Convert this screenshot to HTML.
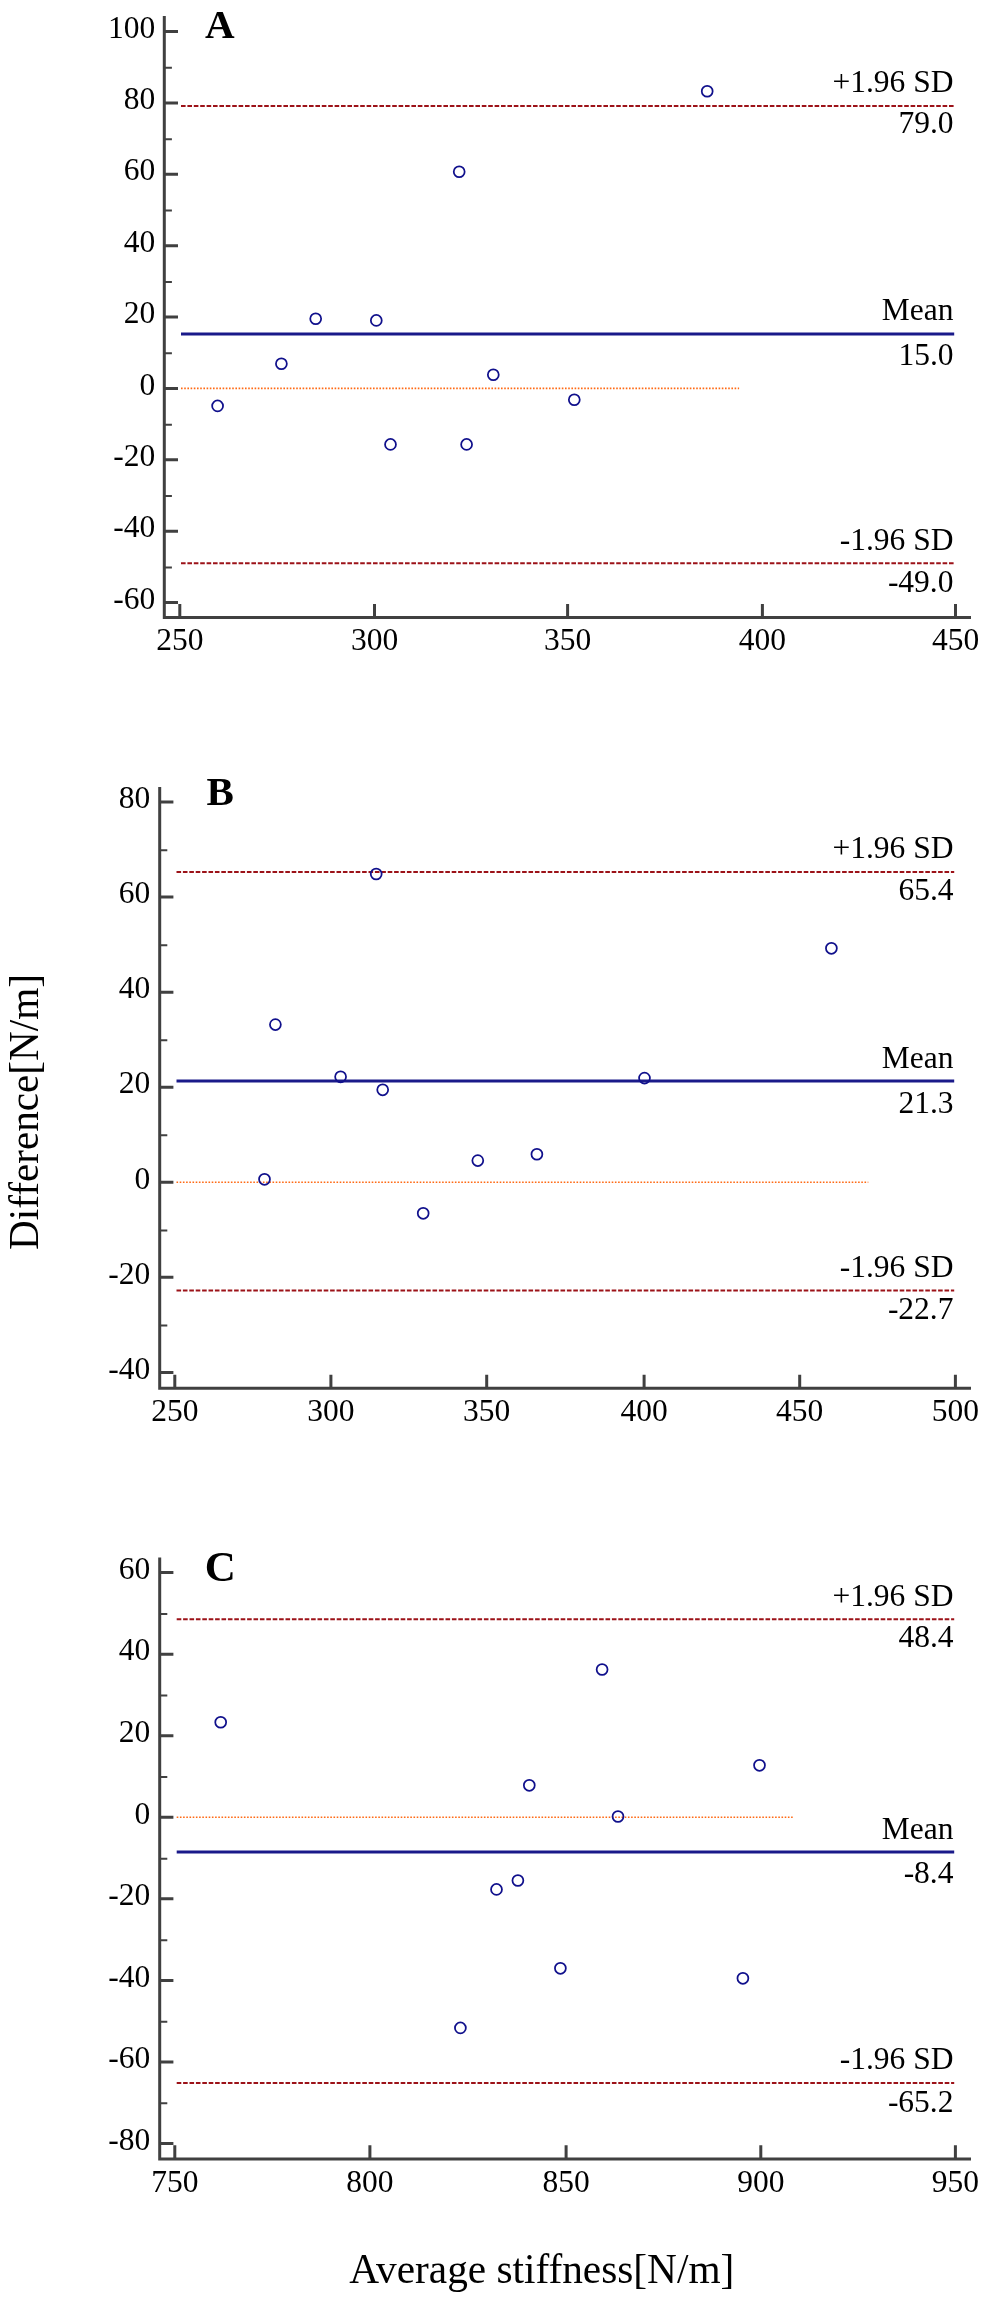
<!DOCTYPE html>
<html><head><meta charset="utf-8"><title>Bland-Altman plots</title>
<style>html,body{margin:0;padding:0;background:#fff;}svg{display:block;will-change:transform;}text{font-family:"Liberation Serif",serif;fill:#000;}</style></head><body>
<svg width="988" height="2300" viewBox="0 0 988 2300">
<rect x="0" y="0" width="988" height="2300" fill="#fff"/>
<g>
<line x1="181" y1="388.4" x2="739.1" y2="388.4" stroke="#ff6a14" stroke-width="1.6" stroke-dasharray="1.6 1.6"/>
<line x1="181" y1="106" x2="954.2" y2="106" stroke="#9c1218" stroke-width="2" stroke-dasharray="4.6 1.8"/>
<line x1="181" y1="334.1" x2="954.2" y2="334.1" stroke="#1a1a8a" stroke-width="3"/>
<line x1="181" y1="563.2" x2="954.2" y2="563.2" stroke="#9c1218" stroke-width="2" stroke-dasharray="4.6 1.8"/>
<text x="953.5" y="91.6" text-anchor="end" font-size="31.5">+1.96 SD</text>
<text x="953.5" y="133.4" text-anchor="end" font-size="31.5">79.0</text>
<text x="953.5" y="319.9" text-anchor="end" font-size="31.5">Mean</text>
<text x="953.5" y="364.8" text-anchor="end" font-size="31.5">15.0</text>
<text x="953.5" y="549.9" text-anchor="end" font-size="31.5">-1.96 SD</text>
<text x="953.5" y="591.7" text-anchor="end" font-size="31.5">-49.0</text>
<path d="M164.3 16 V617.6 H971" fill="none" stroke="#404040" stroke-width="3" stroke-linecap="butt" stroke-linejoin="miter"/>
<path d="M164.3 567.42H171.9 M164.3 496.06H171.9 M164.3 424.69H171.9 M164.3 353.31H171.9 M164.3 281.94H171.9 M164.3 210.57H171.9 M164.3 139.2H171.9 M164.3 67.84H171.9" stroke="#404040" stroke-width="2" fill="none"/>
<path d="M164.3 602.51H178 M164.3 531.14H178 M164.3 459.77H178 M164.3 388.4H178 M164.3 317.03H178 M164.3 245.66H178 M164.3 174.29H178 M164.3 102.92H178 M164.3 31.55H178 M179.8 617.6V604 M374.5 617.6V604 M567.6 617.6V604 M762.4 617.6V604 M955.5 617.6V604" stroke="#404040" stroke-width="3" fill="none"/>
<text x="155.3" y="608.71" text-anchor="end" font-size="31.5">-60</text>
<text x="155.3" y="537.34" text-anchor="end" font-size="31.5">-40</text>
<text x="155.3" y="465.97" text-anchor="end" font-size="31.5">-20</text>
<text x="155.3" y="394.6" text-anchor="end" font-size="31.5">0</text>
<text x="155.3" y="323.23" text-anchor="end" font-size="31.5">20</text>
<text x="155.3" y="251.86" text-anchor="end" font-size="31.5">40</text>
<text x="155.3" y="180.49" text-anchor="end" font-size="31.5">60</text>
<text x="155.3" y="109.12" text-anchor="end" font-size="31.5">80</text>
<text x="155.3" y="37.75" text-anchor="end" font-size="31.5">100</text>
<text x="179.8" y="650.2" text-anchor="middle" font-size="31.5">250</text>
<text x="374.5" y="650.2" text-anchor="middle" font-size="31.5">300</text>
<text x="567.6" y="650.2" text-anchor="middle" font-size="31.5">350</text>
<text x="762.4" y="650.2" text-anchor="middle" font-size="31.5">400</text>
<text x="955.5" y="650.2" text-anchor="middle" font-size="31.5">450</text>
<circle cx="707.2" cy="91.2" r="5.45" fill="none" stroke="#10108c" stroke-width="1.75"/>
<circle cx="459.2" cy="171.7" r="5.45" fill="none" stroke="#10108c" stroke-width="1.75"/>
<circle cx="315.7" cy="318.7" r="5.45" fill="none" stroke="#10108c" stroke-width="1.75"/>
<circle cx="376.3" cy="320.4" r="5.45" fill="none" stroke="#10108c" stroke-width="1.75"/>
<circle cx="281.4" cy="363.8" r="5.45" fill="none" stroke="#10108c" stroke-width="1.75"/>
<circle cx="493.3" cy="374.8" r="5.45" fill="none" stroke="#10108c" stroke-width="1.75"/>
<circle cx="217.6" cy="405.9" r="5.45" fill="none" stroke="#10108c" stroke-width="1.75"/>
<circle cx="390.5" cy="444.4" r="5.45" fill="none" stroke="#10108c" stroke-width="1.75"/>
<circle cx="466.6" cy="444.4" r="5.45" fill="none" stroke="#10108c" stroke-width="1.75"/>
<circle cx="574.3" cy="399.8" r="5.45" fill="none" stroke="#10108c" stroke-width="1.75"/>
<text x="205" y="37.6" font-size="41" font-weight="bold">A</text>
</g>
<g>
<line x1="176.5" y1="1182.3" x2="868.3" y2="1182.3" stroke="#ff6a14" stroke-width="1.6" stroke-dasharray="1.6 1.6"/>
<line x1="176.5" y1="871.9" x2="954.2" y2="871.9" stroke="#9c1218" stroke-width="2" stroke-dasharray="4.6 1.8"/>
<line x1="176.5" y1="1081" x2="954.2" y2="1081" stroke="#1a1a8a" stroke-width="3"/>
<line x1="176.5" y1="1290.5" x2="954.2" y2="1290.5" stroke="#9c1218" stroke-width="2" stroke-dasharray="4.6 1.8"/>
<text x="953.5" y="857.7" text-anchor="end" font-size="31.5">+1.96 SD</text>
<text x="953.5" y="900.1" text-anchor="end" font-size="31.5">65.4</text>
<text x="953.5" y="1068.2" text-anchor="end" font-size="31.5">Mean</text>
<text x="953.5" y="1113" text-anchor="end" font-size="31.5">21.3</text>
<text x="953.5" y="1276.8" text-anchor="end" font-size="31.5">-1.96 SD</text>
<text x="953.5" y="1318.5" text-anchor="end" font-size="31.5">-22.7</text>
<path d="M159.7 787 V1388.3 H971" fill="none" stroke="#404040" stroke-width="3" stroke-linecap="butt" stroke-linejoin="miter"/>
<path d="M159.7 1325.49H167.3 M159.7 1230.43H167.3 M159.7 1135.37H167.3 M159.7 1040.31H167.3 M159.7 945.25H167.3 M159.7 850.19H167.3" stroke="#404040" stroke-width="2" fill="none"/>
<path d="M159.7 1372.42H173.4 M159.7 1277.36H173.4 M159.7 1182.3H173.4 M159.7 1087.24H173.4 M159.7 992.18H173.4 M159.7 897.12H173.4 M159.7 802.06H173.4 M174.8 1388.3V1374.7 M330.9 1388.3V1374.7 M486.7 1388.3V1374.7 M644.1 1388.3V1374.7 M799.7 1388.3V1374.7 M955.4 1388.3V1374.7" stroke="#404040" stroke-width="3" fill="none"/>
<text x="150.3" y="1378.62" text-anchor="end" font-size="31.5">-40</text>
<text x="150.3" y="1283.56" text-anchor="end" font-size="31.5">-20</text>
<text x="150.3" y="1188.5" text-anchor="end" font-size="31.5">0</text>
<text x="150.3" y="1093.44" text-anchor="end" font-size="31.5">20</text>
<text x="150.3" y="998.38" text-anchor="end" font-size="31.5">40</text>
<text x="150.3" y="903.32" text-anchor="end" font-size="31.5">60</text>
<text x="150.3" y="808.26" text-anchor="end" font-size="31.5">80</text>
<text x="174.8" y="1420.5" text-anchor="middle" font-size="31.5">250</text>
<text x="330.9" y="1420.5" text-anchor="middle" font-size="31.5">300</text>
<text x="486.7" y="1420.5" text-anchor="middle" font-size="31.5">350</text>
<text x="644.1" y="1420.5" text-anchor="middle" font-size="31.5">400</text>
<text x="799.7" y="1420.5" text-anchor="middle" font-size="31.5">450</text>
<text x="955.4" y="1420.5" text-anchor="middle" font-size="31.5">500</text>
<circle cx="376.2" cy="874" r="5.45" fill="none" stroke="#10108c" stroke-width="1.75"/>
<circle cx="275.4" cy="1024.6" r="5.45" fill="none" stroke="#10108c" stroke-width="1.75"/>
<circle cx="340.6" cy="1076.8" r="5.45" fill="none" stroke="#10108c" stroke-width="1.75"/>
<circle cx="382.7" cy="1089.8" r="5.45" fill="none" stroke="#10108c" stroke-width="1.75"/>
<circle cx="264.5" cy="1179.3" r="5.45" fill="none" stroke="#10108c" stroke-width="1.75"/>
<circle cx="477.8" cy="1160.6" r="5.45" fill="none" stroke="#10108c" stroke-width="1.75"/>
<circle cx="536.9" cy="1154.2" r="5.45" fill="none" stroke="#10108c" stroke-width="1.75"/>
<circle cx="423.2" cy="1213.3" r="5.45" fill="none" stroke="#10108c" stroke-width="1.75"/>
<circle cx="831.4" cy="948.3" r="5.45" fill="none" stroke="#10108c" stroke-width="1.75"/>
<circle cx="644.5" cy="1078.1" r="5.45" fill="none" stroke="#10108c" stroke-width="1.75"/>
<text x="206.4" y="804.6" font-size="41" font-weight="bold">B</text>
</g>
<g>
<line x1="176.7" y1="1817.3" x2="793.8" y2="1817.3" stroke="#ff6a14" stroke-width="1.6" stroke-dasharray="1.6 1.6"/>
<line x1="176.7" y1="1619.3" x2="954.2" y2="1619.3" stroke="#9c1218" stroke-width="2" stroke-dasharray="4.6 1.8"/>
<line x1="176.7" y1="1851.9" x2="954.2" y2="1851.9" stroke="#1a1a8a" stroke-width="3"/>
<line x1="176.7" y1="2082.9" x2="954.2" y2="2082.9" stroke="#9c1218" stroke-width="2" stroke-dasharray="4.6 1.8"/>
<text x="953.5" y="1605.6" text-anchor="end" font-size="31.5">+1.96 SD</text>
<text x="953.5" y="1647.1" text-anchor="end" font-size="31.5">48.4</text>
<text x="953.5" y="1838.6" text-anchor="end" font-size="31.5">Mean</text>
<text x="953.5" y="1883.4" text-anchor="end" font-size="31.5">-8.4</text>
<text x="953.5" y="2069.4" text-anchor="end" font-size="31.5">-1.96 SD</text>
<text x="953.5" y="2111.5" text-anchor="end" font-size="31.5">-65.2</text>
<path d="M159.7 1557.5 V2158.9 H971" fill="none" stroke="#404040" stroke-width="3" stroke-linecap="butt" stroke-linejoin="miter"/>
<path d="M159.7 2103.36H167.3 M159.7 2021.8H167.3 M159.7 1940.24H167.3 M159.7 1858.68H167.3 M159.7 1777.12H167.3 M159.7 1695.56H167.3 M159.7 1614H167.3" stroke="#404040" stroke-width="2" fill="none"/>
<path d="M159.7 2143.54H173.4 M159.7 2061.98H173.4 M159.7 1980.42H173.4 M159.7 1898.86H173.4 M159.7 1817.3H173.4 M159.7 1735.74H173.4 M159.7 1654.18H173.4 M159.7 1572.62H173.4 M174.8 2158.9V2145.3 M369.9 2158.9V2145.3 M566.1 2158.9V2145.3 M760.8 2158.9V2145.3 M955.4 2158.9V2145.3" stroke="#404040" stroke-width="3" fill="none"/>
<text x="150.3" y="2149.74" text-anchor="end" font-size="31.5">-80</text>
<text x="150.3" y="2068.18" text-anchor="end" font-size="31.5">-60</text>
<text x="150.3" y="1986.62" text-anchor="end" font-size="31.5">-40</text>
<text x="150.3" y="1905.06" text-anchor="end" font-size="31.5">-20</text>
<text x="150.3" y="1823.5" text-anchor="end" font-size="31.5">0</text>
<text x="150.3" y="1741.94" text-anchor="end" font-size="31.5">20</text>
<text x="150.3" y="1660.38" text-anchor="end" font-size="31.5">40</text>
<text x="150.3" y="1578.82" text-anchor="end" font-size="31.5">60</text>
<text x="174.8" y="2191.7" text-anchor="middle" font-size="31.5">750</text>
<text x="369.9" y="2191.7" text-anchor="middle" font-size="31.5">800</text>
<text x="566.1" y="2191.7" text-anchor="middle" font-size="31.5">850</text>
<text x="760.8" y="2191.7" text-anchor="middle" font-size="31.5">900</text>
<text x="955.4" y="2191.7" text-anchor="middle" font-size="31.5">950</text>
<circle cx="220.7" cy="1722.2" r="5.45" fill="none" stroke="#10108c" stroke-width="1.75"/>
<circle cx="529.3" cy="1785.3" r="5.45" fill="none" stroke="#10108c" stroke-width="1.75"/>
<circle cx="496.5" cy="1889.4" r="5.45" fill="none" stroke="#10108c" stroke-width="1.75"/>
<circle cx="517.9" cy="1880.5" r="5.45" fill="none" stroke="#10108c" stroke-width="1.75"/>
<circle cx="560.4" cy="1968.3" r="5.45" fill="none" stroke="#10108c" stroke-width="1.75"/>
<circle cx="460.4" cy="2027.9" r="5.45" fill="none" stroke="#10108c" stroke-width="1.75"/>
<circle cx="602.1" cy="1669.5" r="5.45" fill="none" stroke="#10108c" stroke-width="1.75"/>
<circle cx="759.5" cy="1765.3" r="5.45" fill="none" stroke="#10108c" stroke-width="1.75"/>
<circle cx="618" cy="1816.5" r="5.45" fill="none" stroke="#10108c" stroke-width="1.75"/>
<circle cx="742.9" cy="1978.3" r="5.45" fill="none" stroke="#10108c" stroke-width="1.75"/>
<text x="204.8" y="1580.6" font-size="43" font-weight="bold">C</text>
</g>
<text transform="translate(37.6 1112) rotate(-90)" text-anchor="middle" font-size="41.2">Difference[N/m]</text>
<text x="541.8" y="2282.5" text-anchor="middle" font-size="41.3">Average stiffness[N/m]</text>
</svg></body></html>
